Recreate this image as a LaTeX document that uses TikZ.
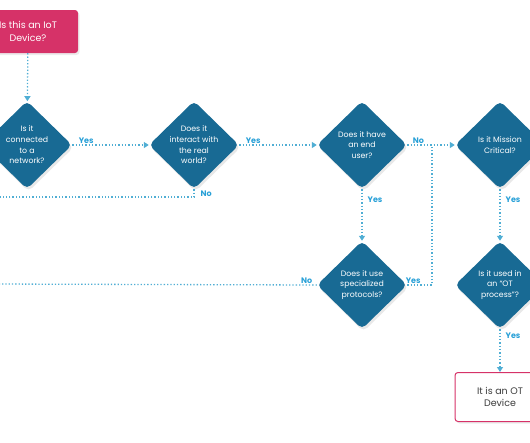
\documentclass[tikz,border=0pt]{standalone}
\usepackage{fontspec}
\setmainfont{Poppins}
\usetikzlibrary{shapes.geometric,arrows.meta,positioning,calc,shadows}
\definecolor{iotpink}{RGB}{214,50,104}
\definecolor{qblue}{RGB}{24,106,148}
\definecolor{linkblue}{RGB}{80,174,212}
\definecolor{tagblue}{RGB}{40,160,215}
\definecolor{textgray}{RGB}{60,60,60}

\begin{document}
\begin{tikzpicture}[x=1pt, y=-1pt,
    question/.style={diamond, fill=qblue, rounded corners=5pt, minimum width=90pt, minimum height=88pt,
        inner sep=0pt, text=white, align=center, font=\fontsize{7.8}{10.7}\selectfont,
        drop shadow={opacity=0.18, shadow xshift=1.5pt, shadow yshift=-2.5pt}},
    startbox/.style={rectangle, fill=iotpink, rounded corners=3pt, minimum width=100pt, minimum height=43pt,
        text=white, align=center, font=\fontsize{9.5}{12.5}\selectfont,
        drop shadow={opacity=0.15, shadow xshift=1.5pt, shadow yshift=-2pt}},
    resultbox/.style={rectangle, fill=white, draw=iotpink, line width=1pt, rounded corners=3pt,
        minimum width=90pt, minimum height=49pt, text=textgray, align=center, font=\fontsize{9.5}{12.5}\selectfont,
        drop shadow={opacity=0.15, shadow xshift=1.5pt, shadow yshift=-2pt}},
    link/.style={linkblue, line width=1.3pt, dash pattern=on 1.3pt off 2pt},
    arrow/.style={link, -{Triangle[width=6pt,length=5pt]}},
    tag/.style={font=\fontsize{8}{9}\selectfont\bfseries, text=tagblue, inner sep=1pt}
]
\useasboundingbox (0,0) rectangle (530,442);

\node[startbox] (iot) at (28,31.5) {Is this an IoT\\Device?};
\node[question] (net) at (27,145) {Is it\\connected\\to a\\network?};
\node[question] (real) at (194,145) {Does it\\interact with\\the real\\world?};
\node[question] (user) at (362,145) {Does it have\\an end\\user?};
\node[question] (crit) at (500,145) {Is it Mission\\Critical?};
\node[question] (proto) at (362,285) {Does it use\\specialized\\protocols?};
\node[question] (ot) at (500,285) {Is it used in\\an “OT\\process”?};
\node[resultbox] (otdev) at (500,397) {It is an OT\\Device};

\coordinate (offA) at (-10,197);
\coordinate (offB) at (-10,284);
\coordinate (join) at (432,146);

\draw[arrow] (iot) -- (net);
\draw[arrow] (net.east) -- node[tag, pos=0, anchor=south west, xshift=5pt] {Yes} (real.west);
\draw[arrow] (real.south) |- node[tag, pos=0.3, anchor=west, xshift=5pt] {No} (offA);
\draw[arrow] (real.east) -- node[tag, pos=0, anchor=south west, xshift=5pt] {Yes} (user.west);
\draw[arrow] (user.east) -- node[tag, pos=0, anchor=south west, xshift=4pt] {No} (crit.west);
\draw[arrow] (user.south) -- node[tag, pos=0.2, anchor=west, xshift=4pt] {Yes} (proto.north);
\draw[link] (proto.east) -| node[tag, pos=0.12, anchor=south] {Yes} (join);
\draw[arrow] (proto.west) -- node[tag, pos=0, anchor=south east, xshift=-3pt] {No} (offB);
\draw[arrow] (crit.south) -- node[tag, pos=0.2, anchor=west, xshift=4pt] {Yes} (ot.north);
\draw[arrow] (ot.south) -- node[tag, pos=0.15, anchor=west, xshift=4pt] {Yes} (otdev.north);
\end{tikzpicture}
\end{document}
